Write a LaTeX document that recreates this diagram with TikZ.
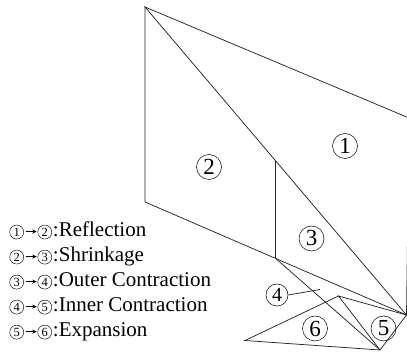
\documentclass[tikz,border=0pt]{standalone}
\usepackage{fontspec}
\setmainfont{Liberation Serif}
\usetikzlibrary{positioning, calc, arrows.meta}

% circled number and short arrow for the legend
\newcommand{\cnum}[1]{\tikz[baseline=(cnd.base)]\node[circle, draw, line width=0.45pt,
	minimum size=14pt, inner sep=0pt, font=\fontsize{12.5}{12.5}\selectfont] (cnd) {#1};}
\newcommand{\legarrow}{\tikz[baseline=0pt]\draw[line width=0.6pt,
	-{Stealth[length=4.5pt, width=4pt]}] (0pt,4.6pt) -- (11pt,4.6pt);}

\begin{document}
\begin{tikzpicture}[x=1pt, y=-1pt,
	edge/.style={draw=black!85, line width=0.75pt},
	region/.style={circle, draw, line width=0.5pt, minimum size=25pt, inner sep=0pt,
	               font=\fontsize{23}{23}\selectfont},
	legendrow/.style={anchor=base west, inner sep=0pt, font=\fontsize{21}{22}\selectfont}
	]
	\useasboundingbox (0,0) rectangle (407,352);
	\clip (0,0) rectangle (407,352);

	% simplex vertices
	\coordinate (top) at (145,7);
	\coordinate (right) at (409,118);
	\coordinate (base) at (406.5,315);
	\coordinate (refl) at (145,202);
	\coordinate (shrtop) at ($(top)!0.5!(base)$);
	\coordinate (shrbot) at ($(refl)!0.5!(base)$);
	\coordinate (outer) at (380,350);
	\coordinate (inner) at (338.5,296);
	\coordinate (expd) at (245,340.5);

	\draw[edge] (top) -- (right) -- (base) -- cycle;
	\draw[edge] (top) -- (refl) -- (base);
	\draw[edge] (shrtop) -- (shrbot);
	\draw[edge] (shrbot) -- (outer) -- (base);
	\draw[edge] (base) -- (inner) -- (outer);
	\draw[edge] (inner) -- (expd) -- (outer);

	\node[region] (lab1) at (345,146) {1};
	\node[region] (lab2) at (209,167) {2};
	\node[region] (lab3) at (311.5,238.5) {3};
	\node[region, minimum size=22pt, font=\fontsize{20}{20}\selectfont] (lab4) at (277,295) {4};
	\node[region] (lab5) at (383.5,328.5) {5};
	\node[region] (lab6) at (315,328.5) {6};
	\coordinate (pin4) at (320,289.5);
	\draw[edge] (lab4.east) -- (pin4);

	% legend
	\foreach \a/\b/\txt [count=\n] in {1/2/Reflection, 2/3/Shrinkage,
		3/4/Outer Contraction, 4/5/Inner Contraction, 5/6/Expansion}
		\node[legendrow] (leg\n) at (9.3,211.2+25*\n)
			{\cnum{\a}\kern1.5pt\legarrow\kern0.5pt\cnum{\b}\kern1pt:\txt};
\end{tikzpicture}
\end{document}
